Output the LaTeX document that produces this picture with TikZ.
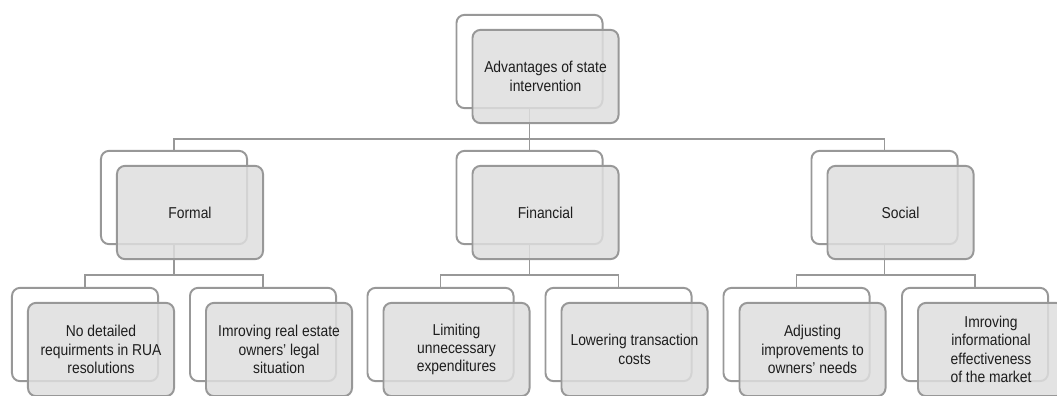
\documentclass[tikz,border=0pt]{standalone}
\usepackage{fontspec}
\setmainfont[FakeStretch=0.88]{Liberation Sans}
\usepackage{xcolor}
\definecolor{boxline}{RGB}{152,152,152}
\definecolor{boxfill}{RGB}{222,222,222}
\definecolor{boxtext}{RGB}{30,30,30}
\usepackage{tikz}

\begin{document}
\begin{tikzpicture}[x=0.025cm,y=-0.025cm,
    back/.style={draw=boxline,line width=1.4pt,rounded corners=0.2cm,
      minimum width=3.65cm,minimum height=2.33cm,inner sep=0pt},
    front/.style={back,fill=boxfill,fill opacity=0.85,text opacity=1,
      text=boxtext,align=center,
      font=\fontsize{11.2}{13}\selectfont},
    link/.style={draw=boxline,line width=1.4pt}]
  \clip (0,0) rectangle (1057,395);

  % back frames
  \node[back] (topb) at (529.5,61.5) {};
  \node[back] (formalb) at (174,197.5) {};
  \node[back] (financialb) at (529.5,197.5) {};
  \node[back] (socialb) at (884.5,197.5) {};
  \node[back] (rua-b) at (85,334.5) {};
  \node[back] (legal-b) at (263,334.5) {};
  \node[back] (expend-b) at (440.5,334.5) {};
  \node[back] (costs-b) at (618.5,334.5) {};
  \node[back] (needs-b) at (796.5,334.5) {};
  \node[back] (market-b) at (975,334.5) {};

  % connectors
  \path[link] (topb.south) -- ++(0,30) -| (formalb.north);
  \path[link] (topb.south) -- (financialb.north);
  \path[link] (topb.south) -- ++(0,30) -| (socialb.north);
  \path[link] (formalb.south) -- ++(0,30) -| (rua-b.north);
  \path[link] (formalb.south) -- ++(0,30) -| (legal-b.north);
  \path[link] (financialb.south) -- ++(0,30) -| (expend-b.north);
  \path[link] (financialb.south) -- ++(0,30) -| (costs-b.north);
  \path[link] (socialb.south) -- ++(0,30) -| (needs-b.north);
  \path[link] (socialb.south) -- ++(0,30) -| (market-b.north);

  % front boxes
  \node[front] (top) at (545.5,76.5) {Advantages of state\\intervention};
  \node[front] (formal) at (190,212.5) {Formal};
  \node[front] (financial) at (545.5,212.5) {Financial};
  \node[front] (social) at (900.5,212.5) {Social};
  \node[front] (rua) at (101,349.5) {No detailed\\requirments in RUA\\resolutions};
  \node[front] (legal) at (279,349.5) {Imroving real estate\\owners' legal\\situation};
  \node[front] (expend) at (456.5,349.5) {Limiting\\unnecessary\\expenditures};
  \node[front] (costs) at (634.5,349.5) {Lowering transaction\\costs};
  \node[front] (needs) at (812.5,349.5) {Adjusting\\improvements to\\owners' needs};
  \node[front] (market) at (991,349.5) {Imroving\\informational\\effectiveness\\of the market};
\end{tikzpicture}
\end{document}
